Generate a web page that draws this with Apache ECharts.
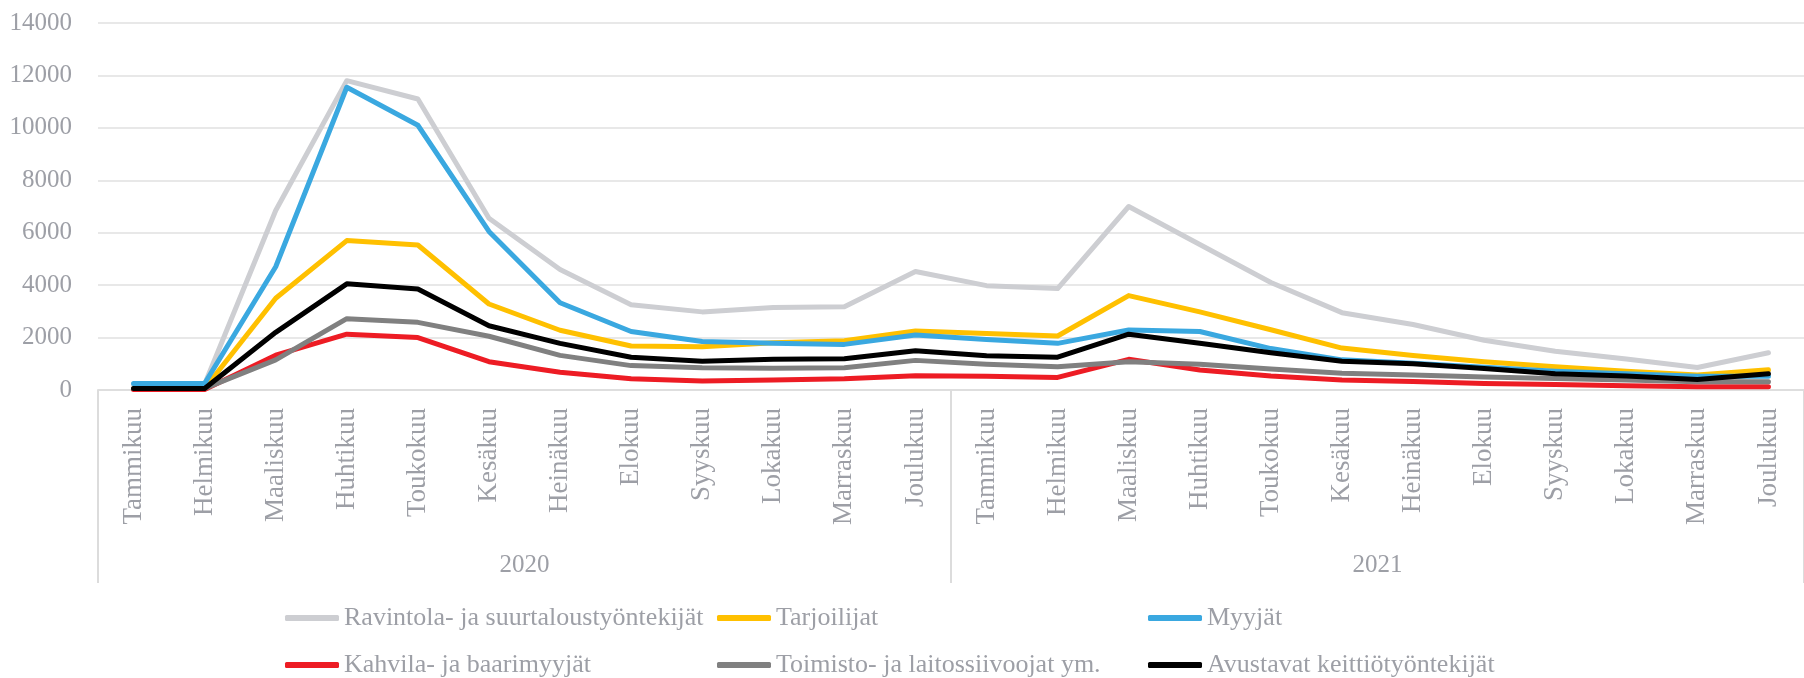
<!DOCTYPE html>
<html>
<head>
<meta charset="utf-8">
<script src="https://cdn.jsdelivr.net/npm/echarts@6/dist/echarts.min.js"></script>
<style>
  html, body { margin: 0; padding: 0; background: #fff; }
  #chart { width: 1804px; height: 678px; }
</style>
</head>
<body>
<div id="chart"></div>
<script>
const monthNames = ["Tammikuu", "Helmikuu", "Maaliskuu", "Huhtikuu", "Toukokuu", "Kesäkuu",
  "Heinäkuu", "Elokuu", "Syyskuu", "Lokakuu", "Marraskuu", "Joulukuu"];
const months = monthNames.concat(monthNames);
const years = ["2020", "2021"];

const ravintola = [210, 220, 6850, 11800, 11100, 6550, 4600, 3250, 2980, 3150, 3180, 4520,
  3980, 3870, 7000, 5550, 4100, 2950, 2500, 1900, 1480, 1180, 860, 1420];
const tarjoilijat = [60, 60, 3500, 5700, 5530, 3280, 2280, 1680, 1650, 1800, 1880, 2250,
  2160, 2060, 3600, 2980, 2300, 1600, 1320, 1080, 890, 720, 570, 770];
const myyjat = [250, 250, 4700, 11550, 10100, 6050, 3330, 2230, 1850, 1780, 1740, 2100,
  1930, 1780, 2290, 2230, 1580, 1150, 1020, 870, 720, 620, 520, 520];
const kahvila = [20, 20, 1330, 2130, 2000, 1080, 680, 430, 340, 380, 430, 540,
  520, 480, 1170, 760, 530, 380, 320, 250, 210, 165, 120, 120];
const toimisto = [60, 60, 1150, 2720, 2580, 2050, 1320, 930, 850, 830, 850, 1130,
  980, 890, 1080, 980, 800, 640, 570, 500, 440, 380, 310, 310];
const avustavat = [60, 60, 2200, 4050, 3850, 2450, 1780, 1250, 1100, 1170, 1190, 1500,
  1310, 1250, 2130, 1780, 1420, 1100, 1000, 820, 620, 530, 400, 620];

const seriesList = [
  { name: "Ravintola- ja suurtaloustyöntekijät", data: ravintola, color: "#cdced2" },
  { name: "Tarjoilijat", data: tarjoilijat, color: "#ffc000" },
  { name: "Myyjät", data: myyjat, color: "#3aa8e0" },
  { name: "Kahvila- ja baarimyyjät", data: kahvila, color: "#ed1c24" },
  { name: "Toimisto- ja laitossiivoojat ym.", data: toimisto, color: "#808080" },
  { name: "Avustavat keittiötyöntekijät", data: avustavat, color: "#000000" },
];

const font = "'Liberation Serif', serif";
const textGrey = "#9d9fa6";

// one legend per column, two rows each
const legendCol = (names, left) => ({
  data: names,
  orient: "vertical",
  left: left,
  top: 605,
  icon: "roundRect",
  itemWidth: 54,
  itemHeight: 6,
  itemGap: 21,
  padding: 0,
  textStyle: { fontFamily: font, fontSize: 26, color: textGrey },
});

const chart = echarts.init(document.getElementById("chart"));
chart.setOption({
  animation: false,
  backgroundColor: "#fff",
  grid: { left: 98, right: -20, top: 23, bottom: 288 },
  legend: [
    legendCol([seriesList[0].name, seriesList[3].name], 285),
    legendCol([seriesList[1].name, seriesList[4].name], 717),
    legendCol([seriesList[2].name, seriesList[5].name], 1148),
  ],
  xAxis: [
    {
      type: "category",
      data: months,
      boundaryGap: true,
      axisLine: { show: true, lineStyle: { color: "#dedede", width: 2 } },
      axisTick: { show: false },
      axisLabel: {
        interval: 0,
        rotate: 90,
        margin: 18,
        fontFamily: font,
        fontSize: 27,
        color: textGrey,
      },
    },
    {
      type: "category",
      data: years,
      position: "bottom",
      boundaryGap: true,
      axisLine: { show: false },
      axisTick: { show: true, length: 193, lineStyle: { color: "#dcdcdc", width: 2 } },
      axisLabel: {
        interval: 0,
        margin: 163,
        fontFamily: font,
        fontSize: 25,
        color: textGrey,
      },
    },
  ],
  yAxis: {
    type: "value",
    min: 0,
    max: 14000,
    interval: 2000,
    axisLine: { show: false },
    axisTick: { show: false },
    axisLabel: {
      margin: 26,
      fontFamily: font,
      fontSize: 25,
      color: textGrey,
      formatter: (v) => String(v),
    },
    splitLine: { lineStyle: { color: "#e8e8e8", width: 2 } },
  },
  series: seriesList.map((s) => ({
    name: s.name,
    type: "line",
    data: s.data,
    xAxisIndex: 0,
    showSymbol: false,
    symbol: "none",
    color: s.color,
    lineStyle: { width: 5, color: s.color, cap: "round", join: "round" },
  })),
});
</script>
</body>
</html>
